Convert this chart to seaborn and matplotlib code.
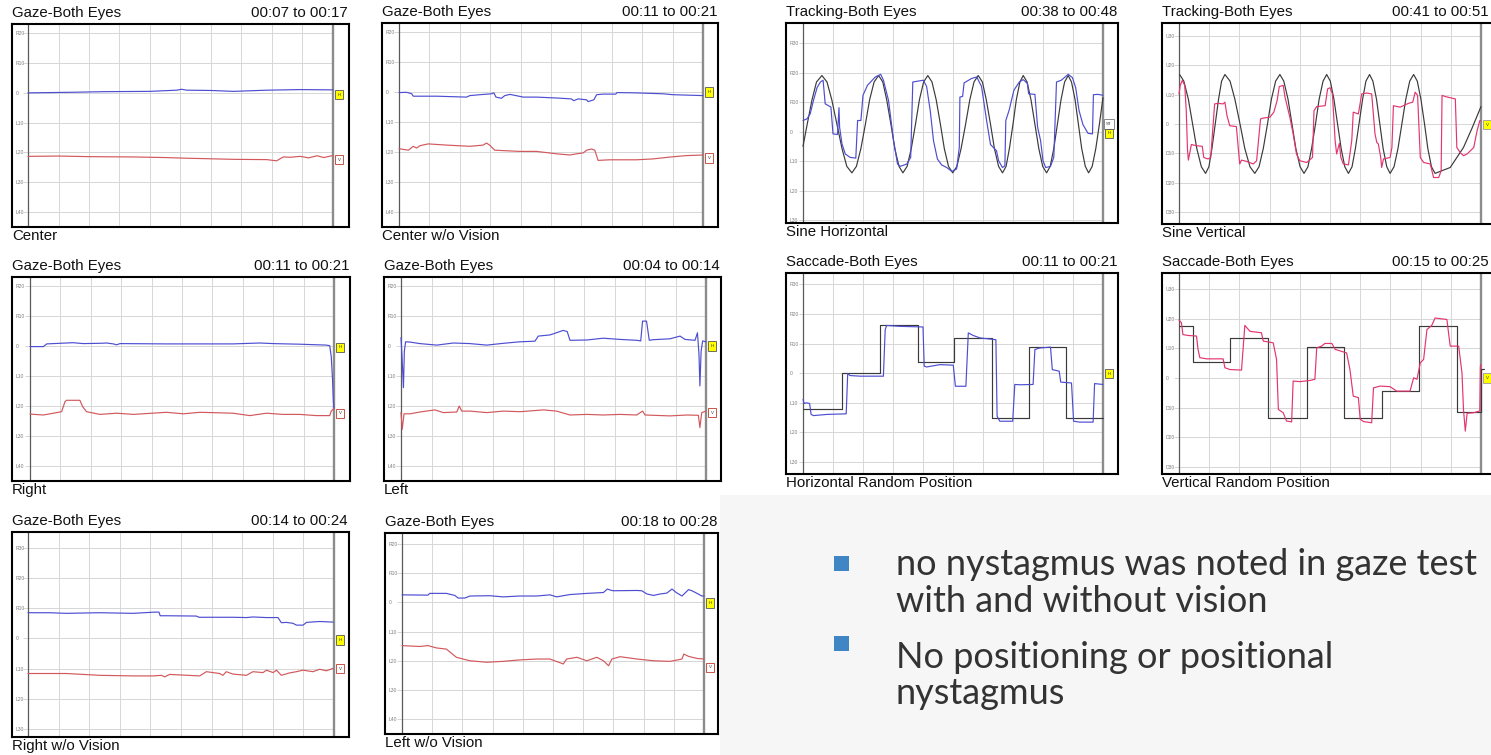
import matplotlib
matplotlib.use("Agg")
import matplotlib.pyplot as plt
import seaborn as sns
from matplotlib.patches import Rectangle

sns.set_style("white")
plt.rcParams['font.family'] = ['Liberation Sans', 'DejaVu Sans']

W, H = 1491, 755

# ---------------- data (time in s, position in deg; R/U positive, L/D negative) ----------------
center_h_t = [0, 1.48, 2.5, 4.0, 4.87, 5.04, 5.2, 6.0, 6.74, 7.83, 8.93, 10.0]
center_h = [0, 0.2, 0.4, 0.5, 0.9, 1.2, 0.9, 0.8, 0.5, 0.9, 1.1, 1.0]
center_v_t = [0, 1.0, 2.0, 3.45, 4.5, 5.1, 6.74, 7.83, 8.15, 8.37, 8.6, 8.93, 9.2, 9.48, 9.7, 10.0]
center_v = [-21.3, -21.2, -21.4, -21.5, -21.7, -21.9, -22.3, -22.4, -22.8, -21.5, -21.6, -21.3, -21.8, -21.1, -21.7, -21.0]

cwo_h_t = [0, 0.25, 0.42, 0.47, 1.24, 2.22, 2.33, 2.66, 3.04, 3.12, 3.19, 3.37, 3.48, 3.65, 4.09, 4.52,
           5.18, 5.67, 5.75, 5.89, 6.17, 6.22, 6.41, 6.5, 6.71, 7.13, 7.17, 7.81, 8.69, 9.01, 9.34, 10.0]
cwo_h = [-0.2, -0.1, -0.6, -1.4, -1.4, -1.7, -1.2, -0.9, -0.6, -0.3, -1.7, -2.1, -1.2, -0.8, -1.7, -1.7,
         -2.0, -2.3, -2.9, -2.3, -2.6, -3.2, -2.6, -0.9, -0.7, -0.7, -0.2, -0.3, -0.6, -0.9, -1.0, -1.2]
cwo_v_t = [0, 0.31, 0.47, 0.58, 0.69, 0.96, 1.57, 2.33, 2.77, 2.88, 2.99, 3.15, 3.98, 4.52, 5.18, 5.62,
           5.78, 6.06, 6.17, 6.33, 6.44, 6.55, 6.93, 7.81, 8.36, 8.9, 9.45, 10.0]
cwo_v = [-18.9, -19.4, -18.1, -18.7, -17.9, -17.3, -17.7, -18.1, -17.7, -17.0, -17.8, -19.4, -19.8, -19.8,
         -20.6, -21.0, -20.7, -20.3, -19.4, -19.0, -19.4, -22.8, -22.6, -22.6, -22.3, -21.7, -21.2, -21.0]

right_h_t = [0, 0.44, 0.55, 1.2, 1.42, 1.75, 2.3, 2.52, 2.74, 2.85, 2.96, 4.49, 6.68, 7.56, 8.0, 8.87,
             9.75, 9.86, 9.91, 9.95, 9.98, 10.0]
right_h = [-0.2, -0.2, 0.7, 1.0, 1.1, 0.8, 0.9, 1.0, 0.7, 0.4, 0.8, 0.7, 0.7, 1.0, 0.8, 0.6,
           0.3, 0.1, -3.6, -10.8, -18.6, -20.8]
right_v_t = [0, 0.44, 0.77, 1.04, 1.15, 1.2, 1.64, 1.73, 1.86, 2.3, 2.85, 3.4, 4.49, 5.04, 5.59, 6.68,
             7.23, 7.78, 8.32, 8.87, 9.42, 9.86, 9.91, 10.0]
right_v = [-22.7, -23.0, -22.4, -21.9, -18.6, -18.1, -18.1, -20.2, -21.9, -22.8, -22.4, -22.8, -22.1,
           -22.6, -22.1, -22.4, -23.2, -22.4, -22.8, -22.8, -23.2, -23.2, -21.7, -20.8]

left_h_t = [0, 0.03, 0.08, 0.11, 0.15, 0.3, 0.62, 1.17, 1.72, 2.26, 2.81, 3.36, 3.9, 4.39, 4.5, 4.89,
            5.32, 5.45, 5.54, 6.09, 6.63, 7.18, 7.73, 7.86, 7.92, 8.05, 8.14, 8.27, 8.82, 9.15, 9.31,
            9.64, 9.72, 9.77, 9.8, 9.84, 9.89, 10.0]
left_h = [2.8, -2.8, -13.9, -1.7, 1.4, 1.3, 0.8, 0.3, 1.0, 0.8, 0.3, 0.9, 1.4, 1.6, 3.3, 3.7,
          5.2, 4.8, 1.9, 2.0, 2.6, 2.2, 1.9, 1.7, 8.3, 8.3, 1.9, 2.1, 2.4, 3.3, 2.2,
          1.9, 4.4, -2.8, -13.3, -1.7, 1.7, 1.4]
left_v_t = [0, 0.04, 0.1, 0.3, 0.62, 1.11, 1.39, 1.83, 1.91, 1.99, 2.26, 2.81, 3.36, 3.9, 4.67, 5.1,
            5.54, 6.09, 6.63, 7.18, 7.73, 7.92, 8.0, 8.82, 9.37, 9.75, 9.8, 9.86, 10.0]
left_v = [-22.2, -27.8, -22.6, -22.6, -22.0, -21.3, -22.2, -22.0, -20.0, -21.7, -21.7, -22.2, -21.7,
          -21.9, -21.3, -21.7, -23.0, -22.8, -23.0, -22.8, -23.0, -21.7, -23.0, -23.3, -23.0, -23.1,
          -27.2, -22.2, -21.7]

rwo_h_t = [0, 0.71, 1.25, 2.34, 3.43, 4.14, 4.28, 4.32, 4.52, 5.5, 5.59, 6.7, 7.14, 7.35, 7.79, 8.17,
           8.28, 8.44, 8.66, 8.77, 8.99, 9.1, 9.53, 9.97]
rwo_h = [8.5, 8.5, 8.3, 8.5, 8.3, 8.7, 8.7, 7.5, 7.5, 7.4, 7.0, 7.0, 6.9, 7.1, 6.9, 6.9,
         5.2, 5.3, 5.0, 4.4, 4.4, 5.3, 5.6, 5.4]
rwo_v_t = [0, 1.25, 2.34, 3.43, 4.08, 4.36, 4.47, 4.63, 5.61, 5.83, 6.26, 6.37, 6.48, 6.7, 7.14, 7.35,
           7.68, 7.79, 8.01, 8.12, 8.28, 8.55, 8.77, 8.99, 9.31, 9.53, 9.75, 9.97]
rwo_v = [-11.6, -11.6, -12.2, -12.4, -12.4, -12.2, -12.7, -11.9, -12.4, -11.0, -11.6, -12.2, -11.0,
         -11.8, -12.2, -11.0, -11.3, -10.5, -11.3, -10.5, -12.2, -11.4, -11.0, -10.5, -11.0, -10.2,
         -10.7, -9.9]

lwo_h_t = [0, 0.86, 0.92, 1.47, 1.75, 1.86, 2.08, 2.25, 2.91, 3.35, 3.9, 4.46, 4.9, 5.12, 5.56, 6.12,
           6.67, 6.8, 6.91, 7.0, 7.78, 7.94, 8.11, 8.33, 8.55, 8.77, 8.94, 9.08, 9.27, 9.49, 9.6,
           9.77, 9.93, 10.0]
lwo_h = [2.6, 2.5, 3.1, 3.1, 2.4, 1.5, 1.5, 2.2, 2.3, 1.9, 2.2, 2.2, 2.6, 1.9, 2.7, 3.1,
         3.4, 4.6, 4.2, 4.0, 4.1, 4.0, 2.9, 2.4, 2.9, 3.2, 4.6, 3.4, 2.2, 4.4, 4.0,
         3.1, 2.2, 2.2]
lwo_v_t = [0, 0.59, 0.86, 1.14, 1.47, 1.8, 2.25, 2.8, 3.35, 3.9, 4.46, 4.9, 5.34, 5.45, 5.79, 6.12,
           6.45, 6.67, 6.84, 6.95, 7.22, 7.78, 8.33, 8.88, 9.27, 9.33, 9.49, 9.77, 10.0]
lwo_v = [-14.8, -15.1, -14.8, -15.6, -16.0, -18.8, -20.0, -20.5, -20.2, -19.7, -19.4, -19.4, -21.1,
         -19.4, -18.8, -20.0, -18.8, -20.0, -21.7, -19.4, -18.6, -19.4, -20.0, -20.2, -19.4, -17.7,
         -18.5, -19.2, -19.4]

sineh_target_t = [0.0, 0.15, 0.30, 0.45, 0.63,
                  0.80, 0.96, 1.13, 1.30, 1.46, 1.63,
                  1.78, 1.93, 2.08, 2.22, 2.37, 2.52,
                  2.66, 2.79, 2.93, 3.06, 3.20, 3.33,
                  3.47, 3.61, 3.75, 3.88, 4.02, 4.16,
                  4.30, 4.44, 4.58, 4.71, 4.85, 4.99,
                  5.13, 5.27, 5.42, 5.56, 5.70, 5.84,
                  5.98, 6.11, 6.25, 6.38, 6.52, 6.65,
                  6.77, 6.88, 7.00, 7.11, 7.23, 7.34,
                  7.47, 7.60, 7.73, 7.86, 7.99, 8.12,
                  8.24, 8.36, 8.48, 8.60, 8.72, 8.84,
                  8.95, 9.07, 9.18, 9.29, 9.41, 9.52,
                  9.64, 9.76, 9.88, 10.0]
sineh_target = [-5, 3, 10.75, 16.8, 19,
                16.8, 10.75, 2.5, -5.75, -11.8, -14,
                -11.8, -5.75, 2.5, 10.75, 16.8, 19,
                16.8, 10.75, 2.5, -5.75, -11.8, -14,
                -11.8, -5.75, 2.5, 10.75, 16.8, 19,
                16.8, 10.75, 2.5, -5.75, -11.8, -14,
                -11.8, -5.75, 2.5, 10.75, 16.8, 19,
                16.8, 10.75, 2.5, -5.75, -11.8, -14,
                -11.8, -5.75, 2.5, 10.75, 16.8, 19,
                16.8, 10.75, 2.5, -5.75, -11.8, -14,
                -11.8, -5.75, 2.5, 10.75, 16.8, 19,
                16.8, 10.75, 2.5, -5.75, -11.8, -14,
                -11.8, -5.75, 2.5, 11.5]
sineh_eye_t = [0, 0.13, 0.24, 0.35, 0.47, 0.58, 0.67, 0.74, 0.93, 1.0, 1.15, 1.2, 1.22, 1.3, 1.41,
               1.57, 1.76, 1.82, 1.93, 2.0, 2.15, 2.41, 2.59, 2.68, 2.85, 3.02, 3.15, 3.24, 3.46,
               3.59, 3.66, 4.01, 4.12, 4.24, 4.35, 4.48, 4.62, 4.79, 4.96, 5.12, 5.21, 5.23, 5.32,
               5.37, 5.62, 5.79, 5.95, 6.12, 6.25, 6.45, 6.52, 6.65, 6.73, 6.76, 6.87, 7.03, 7.21,
               7.34, 7.48, 7.52, 7.73, 7.82, 7.92, 8.0, 8.09, 8.25, 8.36, 8.45, 8.61, 8.84, 8.98,
               9.09, 9.2, 9.33, 9.5, 9.65, 9.68, 9.83, 10.0]
sineh_eye = [3.75, 4.3, 6.0, 10.6, 14.9, 16.8, 17.4, 9.4, 8.3, -0.8, -1.0, 8.1, 1.5, -4.2, -7.6,
             -8.75, -9.0, 3.75, 3.75, 12.3, 15.7, 18.5, 19.4, 17.4, 10.6, -3.1, -11.0, -11.8, -11.0,
             -8.75, 16.8, 17.4, 15.3, 7.2, -3.1, -9.3, -11.3, -12.2, -13.5, -12.7, -5.3, 11.7, 11.9,
             16.5, 18.0, 18.5, 15.3, 3.75, -4.4, -6.5, -9.9, -12.2, -11.6, 3.75, 7.2, 14.0, 16.8,
             17.6, 16.3, 12.8, 12.6, 1.5, -3.1, -9.9, -12.2, -11.8, -8.75, 16.8, 17.4, 19.4, 18.3,
             14.9, 7.2, 2.4, -0.6, -0.8, 12.5, 12.6, 12.3]

sinev_target_t = [0.02, 0.16, 0.31, 0.45, 0.59, 0.74, 0.88,
                  0.99, 1.09, 1.20, 1.31, 1.41, 1.52,
                  1.69, 1.85, 2.02, 2.18, 2.35, 2.51,
                  2.65, 2.79, 2.93, 3.06, 3.20, 3.34,
                  3.47, 3.61, 3.74, 3.87, 4.01, 4.14,
                  4.27, 4.39, 4.52, 4.64, 4.77, 4.89,
                  5.01, 5.13, 5.25, 5.37, 5.49, 5.61,
                  5.73, 5.84, 5.96, 6.08, 6.19, 6.31,
                  6.42, 6.54, 6.65, 6.76, 6.88, 6.99,
                  7.12, 7.25, 7.38, 7.51, 7.64, 7.77,
                  7.89, 8.01, 8.13, 8.24, 8.36, 8.48,
                  8.98, 9.42, 9.70, 10.0]
sinev_target = [16.8, 14.55, 8.4, 0, -8.4, -14.55, -16.8,
                -14.55, -8.4, 0, 8.4, 14.55, 16.8,
                14.55, 8.4, 0, -8.4, -14.55, -16.8,
                -14.55, -8.4, 0, 8.4, 14.55, 16.8,
                14.55, 8.4, 0, -8.4, -14.55, -16.8,
                -14.55, -8.4, 0, 8.4, 14.55, 16.8,
                14.55, 8.4, 0, -8.4, -14.55, -16.8,
                -14.55, -8.4, 0, 8.4, 14.55, 16.8,
                14.55, 8.4, 0, -8.4, -14.55, -16.8,
                -14.55, -8.4, 0, 8.4, 14.55, 16.8,
                14.55, 8.4, 0, -8.4, -14.55, -16.8,
                -14.8, -8.0, -1.5, 5.9]
sinev_eye_t = [0, 0.04, 0.11, 0.19, 0.24, 0.28, 0.31, 0.35, 0.41, 0.58, 0.77, 0.82, 0.96, 1.05, 1.18,
               1.29, 1.46, 1.52, 1.59, 1.68, 1.9, 1.98, 2.01, 2.07, 2.23, 2.46, 2.57, 2.7, 2.79,
               3.01, 3.14, 3.25, 3.32, 3.45, 3.51, 3.67, 3.78, 3.89, 4.0, 4.23, 4.42, 4.47, 4.56,
               4.84, 4.92, 5.0, 5.08, 5.17, 5.22, 5.31, 5.36, 5.44, 5.61, 5.72, 5.77, 5.94, 6.05,
               6.22, 6.38, 6.49, 6.55, 6.6, 6.68, 6.71, 6.77, 6.99, 7.05, 7.1, 7.32, 7.6, 7.74,
               7.82, 7.9, 7.99, 8.1, 8.32, 8.43, 8.6, 8.68, 8.71, 8.82, 9.15, 9.2, 9.31, 9.42,
               9.54, 9.76, 9.87, 9.96, 10.0]
sinev_eye = [10.2, 13.1, 14.8, 13.1, 4.5, -8.5, -12.3, -10.2, -7.0, -7.4, -7.6, -11.4, -11.9, -11.4,
             6.8, 7.0, 6.8, 7.4, 2.8, -0.6, -0.9, -10.2, -13.6, -12.3, -12.7, -13.6, -12.5, 1.7,
             2.0, 2.3, 4.0, 8.0, 12.7, 13.1, 9.1, 2.3, -3.4, -10.2, -12.5, -13.1, -11.4, 4.5, 5.9,
             6.2, 11.9, 12.3, 10.2, -5.7, -10.2, -6.6, -11.4, -13.6, -13.9, -5.7, 4.0, 3.4, 10.2,
             10.5, 10.2, -3.4, -6.3, -6.8, -11.4, -14.8, -11.9, -11.4, -8.0, 6.2, 5.7, 7.0, 7.4,
             10.8, 9.7, -11.4, -13.1, -13.6, -18.2, -18.2, -15.9, 9.7, 9.3, 8.5, -8.0, -9.7, -10.8,
             -10.2, -8.0, -2.3, 1.1, 1.1]

sacch_target_t = [0, 1.30, 2.55, 3.82, 5.03, 6.31, 7.54, 8.78, 10.0]
sacch_target = [-12, 0, 16.1, 3.7, 11.9, -15.1, 8.9, -15.1, -15.1]
sacch_eye_t = [0, 0.04, 0.11, 0.22, 0.27, 0.35, 0.8, 1.44, 1.49, 1.57, 1.91, 2.68, 2.74, 2.79, 3.24,
               4.0, 4.04, 4.12, 4.57, 5.01, 5.08, 5.43, 5.51, 5.68, 5.9, 6.43, 6.47, 6.56, 6.99,
               7.06, 7.23, 7.67, 7.73, 7.89, 8.25, 8.31, 8.54, 8.59, 8.95, 9.02, 9.22, 9.67, 9.72,
               10.0]
sacch_eye = [-8.9, -10.2, -10.0, -10.2, -13.9, -14.3, -13.9, -13.7, -0.1, -0.8, -1.0, -1.0, 14.7,
             16.1, 15.8, 15.6, 2.4, 2.1, 2.9, 2.7, -4.4, -4.4, 13.6, 12.7, 11.9, 11.3, -14.5, -16.2,
             -16.2, -3.8, -3.9, -3.8, 8.0, 8.5, 8.8, 1.2, 0.7, -3.0, -3.3, -16.2, -16.5, -16.5,
             -3.5, -3.8]

saccv_target_t = [0, 0.46, 1.70, 2.95, 4.23, 5.46, 6.71, 7.96, 9.20, 10.0, 10.1]
saccv_target = [17.5, 5.4, 13.6, -13.4, 10.6, -13.4, -4.5, 17.5, -11.5, 3.1, 3.1]
saccv_eye_t = [0, 0.08, 0.13, 0.3, 0.58, 0.63, 0.69, 0.91, 1.46, 1.52, 1.68, 2.07, 2.18, 2.35, 2.73,
               2.79, 3.12, 3.23, 3.29, 3.45, 3.56, 3.73, 3.78, 4.0, 4.34, 4.5, 4.56, 4.72, 4.83,
               5.06, 5.17, 5.55, 5.66, 5.77, 5.94, 6.0, 6.11, 6.38, 6.44, 6.66, 6.99, 7.21, 7.65,
               7.77, 7.88, 7.99, 8.1, 8.21, 8.37, 8.48, 8.87, 8.98, 9.26, 9.37, 9.42, 9.48, 9.54,
               9.76, 9.96, 9.98, 10.0]
saccv_eye = [19.6, 18.7, 14.7, 14.4, 14.2, 9.7, 6.9, 6.5, 6.5, 3.5, 2.9, 2.7, 17.8, 15.8, 15.3,
             12.5, 11.9, 6.3, -10.6, -11.7, -14.5, -14.8, -1.0, -1.2, -0.8, -0.4, 10.2, 10.8, 11.7,
             11.7, 9.7, 8.5, 2.9, -6.1, -6.6, -13.9, -14.7, -15.1, -3.3, -2.7, -2.9, -4.4, -4.4,
             0.1, -0.4, 5.2, 6.3, 16.4, 17.8, 20.3, 19.8, 10.8, 10.8, 1.8, -10.6, -17.9, -11.9,
             -11.7, -11.1, 4.0, 4.6]

gaze_ticks = [20, 10, 0, -10, -20, -30, -40]
gaze_labels = ['R20', 'R10', '0', 'L10', 'L20', 'L30', 'L40']
wide_ticks = [30, 20, 10, 0, -10, -20, -30]
rl_labels = ['R30', 'R20', 'R10', '0', 'L10', 'L20', 'L30']
ud_labels = ['U30', 'U20', 'U10', '0', 'D10', 'D20', 'D30']

bullet_lines = ['no nystagmus was noted in gaze test', 'with and without vision',
                'No positioning or positional', 'nystagmus']

# ---------------- styling ----------------
BLUE = '#4d4dd2'
RED_G = '#d2585c'
RED_P = '#e3356e'
TARGET = '#3a3a3a'

fig = plt.figure(figsize=(W / 100, H / 100), dpi=100)
fig.patch.set_facecolor('white')

# light slide background behind lower right text block
fig.patches.append(Rectangle((720 / W, 0), 1 - 720 / W, 1 - 495 / H, transform=fig.transFigure,
                             facecolor='#f6f6f6', edgecolor='none', zorder=-5))


def px(x, y):
    return x / W, 1 - y / H


def panel(box, axis_px, gray_px, ylim, ticks, labels, title, time_txt, caption, series, markers,
          time_right=None):
    l, t, r, b = box
    ax = fig.add_axes([l / W, 1 - b / H, (r - l) / W, (b - t) / H])
    ax.set_facecolor('white')
    unit = (gray_px - axis_px) / 10.0
    ax.set_xlim(-(axis_px - l) / unit, 10 + (r - gray_px) / unit)
    ax.set_ylim(*ylim)
    ax.vlines(range(1, 10), ylim[0], ylim[1], color='#d6d6d6', lw=0.7, zorder=0)
    ax.hlines(ticks, -0.15, 10, color='#d6d6d6', lw=0.7, zorder=0)
    ax.axvline(0, color='#5a5a5a', lw=0.9, zorder=1)
    ax.axvline(10, color='#8c8c8c', lw=1.7, zorder=1)
    for xs, ys, col, kw in series:
        sns.lineplot(x=xs, y=ys, ax=ax, color=col, lw=0.85, estimator=None, sort=False,
                     legend=False, zorder=3, **kw)
    ax.set_xlabel('')
    ax.set_ylabel('')
    ax.set_xticks([])
    ax.set_yticks(ticks)
    ax.set_yticklabels(labels)
    ax.tick_params(axis='y', length=0, pad=-2.5, labelsize=3.6, labelcolor='#808080')
    for lab in ax.get_yticklabels():
        lab.set_horizontalalignment('left')
    for s in ax.spines.values():
        s.set_visible(True)
        s.set_linewidth(1.5)
        s.set_color('black')
    for y, letter, fc, ec in markers:
        ax.text(10.2, y, letter, fontsize=3.2, ha='center', va='center', color='#333333', zorder=5,
                bbox=dict(boxstyle='square,pad=0.6', fc=fc, ec=ec, lw=0.6))
    tr = (r - 1) if time_right is None else time_right
    fig.text(*px(l, t - 4), title, fontsize=10.8, ha='left', va='bottom', color='#111111')
    fig.text(*px(tr, t - 4), time_txt, fontsize=10.8, ha='right', va='bottom', color='#111111')
    fig.text(*px(l, b + 2), caption, fontsize=10.8, ha='left', va='top', color='#111111')
    return ax


HY = ('#ffff00', '#555555')
VW = ('white', '#c0392b')
VY = ('#ffff00', '#999999')
GW = ('white', '#777777')

panel((12, 24, 349, 227), 28, 333, (-45, 23.1), gaze_ticks, gaze_labels,
      'Gaze-Both Eyes', '00:07 to 00:17', 'Center',
      [(center_h_t, center_h, BLUE, {}), (center_v_t, center_v, RED_G, {})],
      [(-0.6, 'H', *HY), (-22.4, 'V', *VW)])
panel((382, 23, 718, 227), 399, 703, (-45, 23), gaze_ticks, gaze_labels,
      'Gaze-Both Eyes', '00:11 to 00:21', 'Center w/o Vision',
      [(cwo_h_t, cwo_h, BLUE, {}), (cwo_v_t, cwo_v, RED_G, {})],
      [(0, 'H', *HY), (-22, 'V', *VW)])
panel((12, 277, 350, 481), 30, 334, (-45, 23), gaze_ticks, gaze_labels,
      'Gaze-Both Eyes', '00:11 to 00:21', 'Right',
      [(right_h_t, right_h, BLUE, {}), (right_v_t, right_v, RED_G, {})],
      [(-0.4, 'H', *HY), (-22.4, 'V', *VW)])
panel((384, 277, 721, 481), 401, 706, (-45, 23), gaze_ticks, gaze_labels,
      'Gaze-Both Eyes', '00:04 to 00:14', 'Left',
      [(left_h_t, left_h, BLUE, {}), (left_v_t, left_v, RED_G, {})],
      [(0, 'H', *HY), (-22.2, 'V', *VW)])
panel((12, 532, 349, 737), 28, 334, (-32.6, 35.2), wide_ticks, rl_labels,
      'Gaze-Both Eyes', '00:14 to 00:24', 'Right w/o Vision',
      [(rwo_h_t, rwo_h, BLUE, {}), (rwo_v_t, rwo_v, RED_G, {})],
      [(-0.5, 'H', *HY), (-10, 'V', *VW)])
panel((385, 533, 718, 734), 402, 704, (-45.1, 23.8), gaze_ticks, gaze_labels,
      'Gaze-Both Eyes', '00:18 to 00:28', 'Left w/o Vision',
      [(lwo_h_t, lwo_h, BLUE, {}), (lwo_v_t, lwo_v, RED_G, {})],
      [(-0.2, 'H', *HY), (-22.2, 'V', *VW)])
panel((786, 23, 1118, 223), 803, 1103, (-31, 36.8), wide_ticks, rl_labels,
      'Tracking-Both Eyes', '00:38 to 00:48', 'Sine Horizontal',
      [(sineh_target_t, sineh_target, TARGET, {}), (sineh_eye_t, sineh_eye, BLUE, {})],
      [(2.6, 'ST', *GW), (-0.6, 'H', *HY)])
panel((1162, 23, 1497, 224), 1179, 1481, (-34, 34.3), wide_ticks, ud_labels,
      'Tracking-Both Eyes', '00:41 to 00:51', 'Sine Vertical',
      [(sinev_target_t, sinev_target, TARGET, {}), (sinev_eye_t, sinev_eye, RED_P, {})],
      [(-0.2, 'V', *VY)], time_right=1489)
panel((786, 273, 1118, 474), 803, 1103, (-34, 33.8), wide_ticks, rl_labels,
      'Saccade-Both Eyes', '00:11 to 00:21', 'Horizontal Random Position',
      [(sacch_target_t, sacch_target, TARGET, {'drawstyle': 'steps-post'}),
       (sacch_eye_t, sacch_eye, BLUE, {})],
      [(-0.2, 'H', *HY)])
panel((1162, 273, 1497, 474), 1179, 1481, (-32.4, 35.5), wide_ticks, ud_labels,
      'Saccade-Both Eyes', '00:15 to 00:25', 'Vertical Random Position',
      [(saccv_target_t, saccv_target, TARGET, {'drawstyle': 'steps-post'}),
       (saccv_eye_t, saccv_eye, RED_P, {})],
      [(2.7, '', *GW), (0, 'V', *VY)], time_right=1489)

# ---------------- bullet text ----------------
BFONT = ['Lato', 'DejaVu Sans']
for yb, txt in zip([575, 612, 668, 704], bullet_lines):
    fig.text(*px(896, yb), txt, fontsize=26, family=BFONT, color='#333333', ha='left', va='baseline')
for yc in [564, 644]:
    fig.patches.append(Rectangle(px(834, yc + 7), 15 / W, 15 / H, transform=fig.transFigure,
                                 facecolor='#4186c4', edgecolor='none'))

fig.savefig('out.png', dpi=100)
